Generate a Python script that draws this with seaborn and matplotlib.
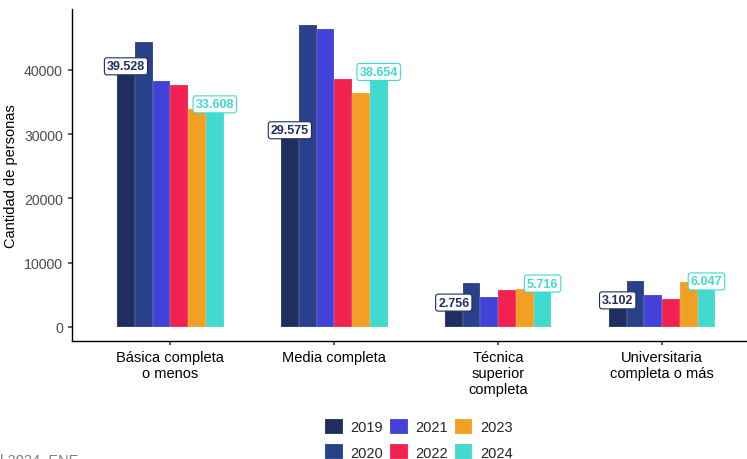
import matplotlib
matplotlib.use("Agg")
import matplotlib.pyplot as plt
import seaborn as sns
import pandas as pd

categorias = ["Básica completa\no menos", "Media completa",
              "Técnica\nsuperior\ncompleta", "Universitaria\ncompleta o más"]
anios = ["2019", "2020", "2021", "2022", "2023", "2024"]

v2019 = [39528, 29575, 2756, 3102]
v2020 = [44300, 47000, 6850, 7150]
v2021 = [38300, 46300, 4600, 4930]
v2022 = [37700, 38600, 5800, 4360]
v2023 = [33900, 36400, 5950, 6950]
v2024 = [33608, 38654, 5716, 6047]

colores = ["#1e2e5e", "#28418a", "#4242d8", "#f22250", "#f2a024", "#42d9d0"]

series = [v2019, v2020, v2021, v2022, v2023, v2024]
rows = []
for anio, vals in zip(anios, series):
    for cat, v in zip(categorias, vals):
        rows.append({"nivel": cat, "anio": anio, "personas": v})
df = pd.DataFrame(rows)

sns.set_theme(style="white")
plt.rcParams["font.family"] = ["Liberation Sans", "DejaVu Sans"]

fig = plt.figure(figsize=(7.47, 4.6), dpi=100)
ax = fig.add_axes([72/747, 118/460, 675/747, 332/460])

sns.barplot(data=df, x="nivel", y="personas", hue="anio", order=categorias,
            hue_order=anios, palette=colores, saturation=1, width=0.65, gap=0,
            edgecolor=(1, 1, 1, 0.4), linewidth=0.3, ax=ax)

def fmt(v):
    return f"{v:,}".replace(",", ".")

# etiquetas solo para 2019 y 2024
for idx in [0, 5]:
    for bar, v in zip(ax.containers[idx], series[idx]):
        x = bar.get_x() + bar.get_width() / 2
        ax.annotate(fmt(v), (x, v), xytext=(0, 0.5), textcoords="offset points",
                    ha="center", va="bottom", fontsize=9, fontweight="bold",
                    color=colores[idx],
                    bbox=dict(boxstyle="round,pad=0.2", fc="white",
                              ec=colores[idx], lw=0.8))

ax.set_xlim(-0.6, 3.518)
ax.set_ylim(-2180, 49490)
ax.set_yticks([0, 10000, 20000, 30000, 40000])
ax.set_yticklabels(["0", "10000", "20000", "30000", "40000"])
ax.set_xlabel("")
ax.set_ylabel("Cantidad de personas", fontsize=10.5, color="black")
ax.tick_params(axis="y", labelsize=10.2, labelcolor="#4d4d4d", length=3,
               color="#4d4d4d", left=True)
ax.tick_params(axis="x", labelsize=10.5, labelcolor="black", length=3,
               color="#4d4d4d", bottom=True)
for s in ["top", "right"]:
    ax.spines[s].set_visible(False)
for s in ["left", "bottom"]:
    ax.spines[s].set_color("black")
    ax.spines[s].set_linewidth(1)

handles, labels = ax.get_legend_handles_labels()
ax.get_legend().remove()
fig.legend(handles, labels, ncol=3, loc="center", bbox_to_anchor=(0.561, 0.043),
           frameon=False, fontsize=10.5, handlelength=1.2, handleheight=1.2,
           handletextpad=0.55, columnspacing=0.45, labelspacing=0.7)

fig.text(0.0, 0.012, "l 2024. ENE", ha="left", va="top", fontsize=10.5,
         color="#7f7f7f")

fig.savefig("out.png", dpi=100)
